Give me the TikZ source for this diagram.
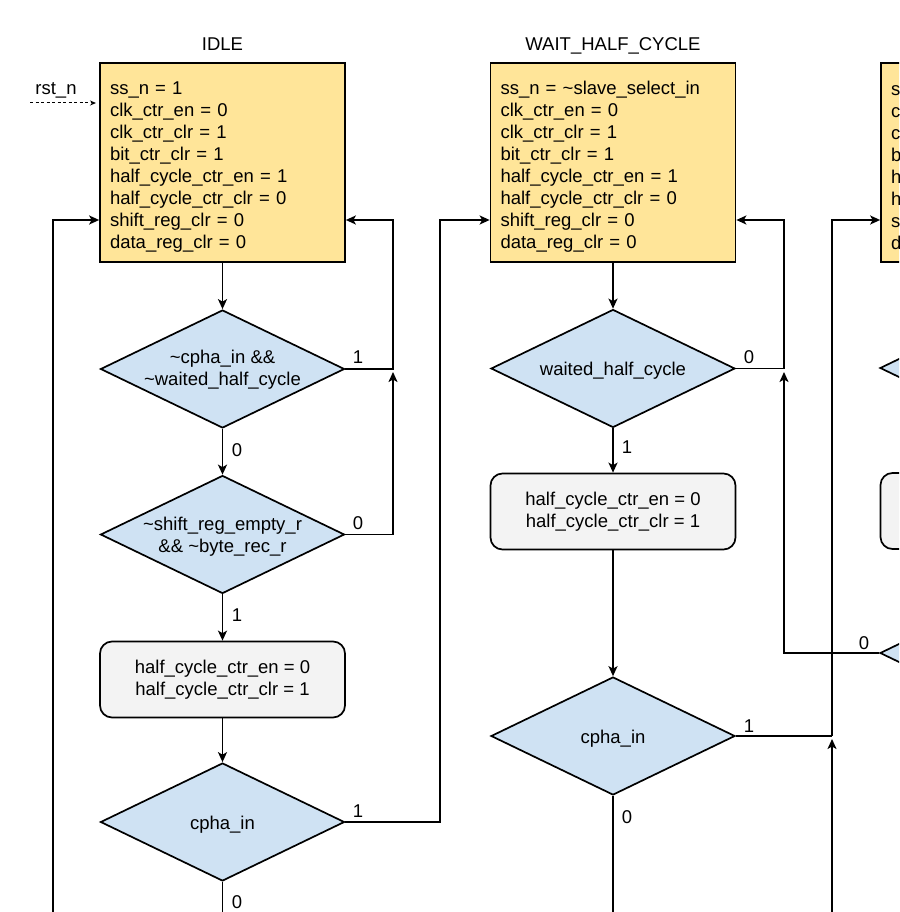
\documentclass[tikz,border=0pt]{standalone}
\usepackage{fontspec}
\setmainfont{Liberation Sans}
\usetikzlibrary{shapes.geometric,arrows.meta}
\definecolor{stateyellow}{HTML}{FFE599}
\definecolor{decblue}{HTML}{CFE2F3}
\definecolor{actgray}{HTML}{F3F3F3}
\newcommand{\tl}{\textasciitilde}
\newcommand{\toprule}{\rule{0pt}{21pt}}
\begin{document}
\begin{tikzpicture}[x=1pt,y=-1pt,
  txt/.style={font=\fontsize{18.5pt}{22pt}\selectfont},
  statebox/.style={txt,draw,line width=1.7pt,fill=stateyellow,minimum width=245pt,minimum height=199pt,
    inner xsep=10pt,inner ysep=0pt,text width=225pt,align=left},
  actbox/.style={txt,draw,line width=1.7pt,fill=actgray,rounded corners=12pt,minimum width=245pt,
    minimum height=76pt,align=center},
  decision/.style={draw,line width=1.7pt,fill=decblue,shape=diamond,aspect=2.07,inner sep=0pt,
    minimum width=244pt,minimum height=118pt},
  dtext/.style={txt,align=center},
  lbl/.style={txt,anchor=base,inner sep=0pt},
  line/.style={line width=1.7pt},
  conn/.style={line width=1.7pt,-{Stealth[length=10pt,width=9pt,inset=2.5pt]}},
  rstarrow/.style={line width=1pt,dash pattern=on 3pt off 2.5pt,-{Stealth[length=6pt,width=5pt]}}
]
\clip (0,0) rectangle (899,912);
\fill[white] (0,0) rectangle (899,912);

% ---------- column IDLE ----------
\node[lbl] (t1) at (222.5,51) {IDLE};
\node[statebox] (idle) at (222.5,162.5) {\toprule ss\_n = 1\\clk\_ctr\_en = 0\\clk\_ctr\_clr = 1\\bit\_ctr\_clr = 1\\half\_cycle\_ctr\_en = 1\\half\_cycle\_ctr\_clr = 0\\shift\_reg\_clr = 0\\data\_reg\_clr = 0};
\node[lbl] (rstl) at (56,95) {rst\_n};
\coordinate (rsts) at (30,103);
\coordinate (rste) at (96,103);
\draw[rstarrow] (rsts) -- (rste);

\node[decision] (d1) at (222.5,369) {};
\node[dtext] (d1t) at (222.5,370) {\tl cpha\_in \&\&\\\tl waited\_half\_cycle};
\node[decision] (d2) at (222.5,534.5) {};
\node[dtext] (d2t) at (222.5,536.5) {\tl shift\_reg\_empty\_r\\\&\& \tl byte\_rec\_r};
\node[actbox] (r1) at (222.5,679.5) {half\_cycle\_ctr\_en = 0\\half\_cycle\_ctr\_clr = 1};
\node[decision] (d3) at (222.5,822) {};
\node[lbl] (d3t) at (222.5,829) {cpha\_in};

\node[lbl] (l1) at (358,363) {1};
\node[lbl] (l2) at (237,456) {0};
\node[lbl] (l3) at (358,529) {0};
\node[lbl] (l4) at (237,621) {1};
\node[lbl] (l5) at (358,817) {1};
\node[lbl] (l6) at (237,908) {0};

\coordinate (b1) at (393,220);
\coordinate (b2) at (393,372);
\coordinate (b3) at (440,220);
\coordinate (b4s) at (53,920);
\coordinate (b4) at (53,220);
\coordinate (d3o) at (222.5,920);

\draw[conn] (idle.south) -- (d1.north);
\draw[conn] (d1.south) -- (d2.north);
\draw[conn] (d2.south) -- (r1.north);
\draw[conn] (r1.south) -- (d3.north);
\draw[conn] (d1.east) -| (b1) -- (idle.east |- b1);
\draw[conn] (d2.east) -| (b2);
\draw[conn] (b4s) -- (b4) -- (idle.west |- b4);
\draw[line] (d3.south) -- (d3o);

% ---------- column WAIT_HALF_CYCLE ----------
\node[lbl] (t2) at (613,51) {WAIT\_HALF\_CYCLE};
\node[statebox] (wait) at (613,162.5) {\toprule ss\_n = \tl slave\_select\_in\\clk\_ctr\_en = 0\\clk\_ctr\_clr = 1\\bit\_ctr\_clr = 1\\half\_cycle\_ctr\_en = 1\\half\_cycle\_ctr\_clr = 0\\shift\_reg\_clr = 0\\data\_reg\_clr = 0};
\node[decision] (d4) at (613,368.5) {};
\node[lbl] (d4t) at (613,375) {waited\_half\_cycle};
\node[actbox] (r2) at (613,511.5) {half\_cycle\_ctr\_en = 0\\half\_cycle\_ctr\_clr = 1};
\node[decision] (d5) at (613,736) {};
\node[lbl] (d5t) at (613,743) {cpha\_in};

\node[lbl] (l7) at (749,363) {0};
\node[lbl] (l8) at (627,453) {1};
\node[lbl] (l9) at (749,732) {1};
\node[lbl] (l10) at (627,823) {0};
\node[lbl] (l11) at (864,649) {0};

\coordinate (b5) at (784,220);
\coordinate (b6) at (832,736);
\coordinate (b7s) at (832,920);
\coordinate (b7) at (832,739);
\coordinate (b8) at (832,220);
\coordinate (b9) at (784,372);
\coordinate (d5o) at (613,920);

\draw[conn] (d3.east) -| (b3) -- (wait.west |- b3);
\draw[conn] (wait.south) -- (d4.north);
\draw[conn] (d4.south) -- (r2.north);
\draw[conn] (r2.south) -- (d5.north);
\draw[conn] (d4.east) -| (b5) -- (wait.east |- b5);
\draw[line] (d5.east) -- (b6);
\draw[line] (d5.south) -- (d5o);
\draw[conn] (b7s) -- (b7);

% ---------- third column (cut off at the edge) ----------
\node[statebox] (s3) at (1003.5,162.5) {\toprule s\\c\\c\\b\\h\\h\\s\\d};
\node[decision] (d6) at (1002,368) {};
\node[actbox] (r3) at (1003,511) {};
\node[decision] (d7) at (1002,653) {};

\draw[conn] (b6) -- (b8) -- (s3.west |- b8);
\draw[conn] (d7.west) -| (b9);
\end{tikzpicture}
\end{document}
